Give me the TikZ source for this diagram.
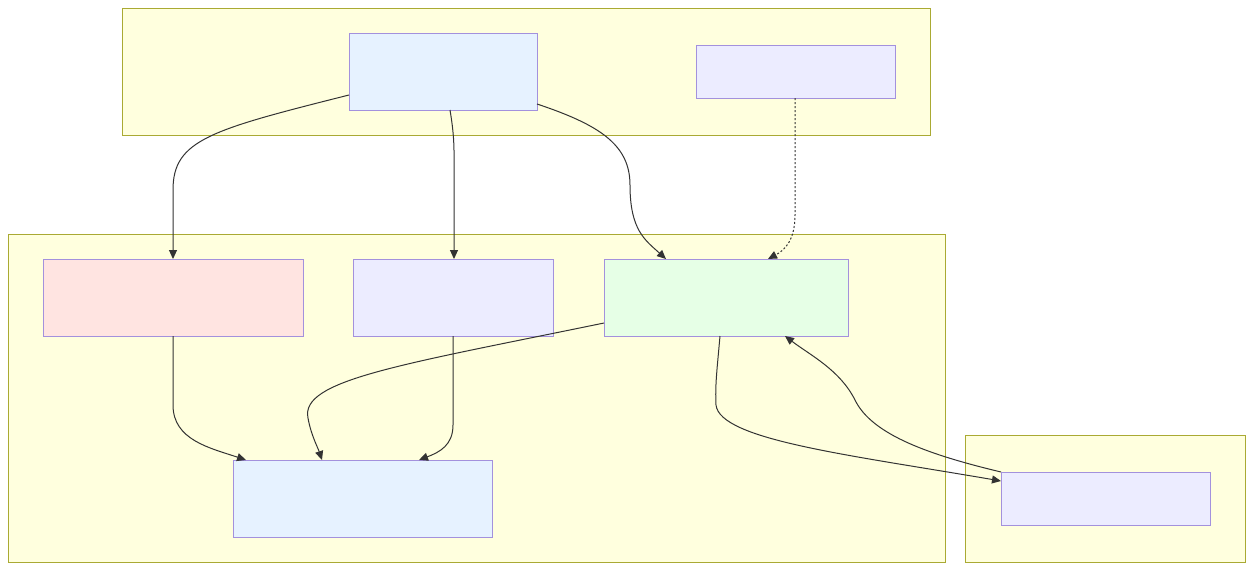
\documentclass[tikz,border=0pt]{standalone}
\usetikzlibrary{arrows.meta}
\definecolor{clfill}{HTML}{FFFFDE}
\definecolor{clline}{HTML}{AAAA33}
\definecolor{ndline}{HTML}{A391DD}
\definecolor{lav}{HTML}{ECECFF}
\definecolor{lblue}{HTML}{E6F2FF}
\definecolor{lpink}{HTML}{FFE4E1}
\definecolor{lgreen}{HTML}{E6FFE6}
\definecolor{edge}{HTML}{333333}
\tikzset{
  cluster/.style={draw=clline, fill=clfill, line width=1pt},
  box/.style={draw=ndline, line width=1pt, inner sep=0pt, outer sep=0pt},
  conn/.style={draw=edge, line width=1pt, -{Triangle[length=9pt,width=8pt]}},
  dotconn/.style={conn, dash pattern=on 2pt off 2pt},
}
\begin{document}
\begin{tikzpicture}[x=1pt,y=-1pt]
\useasboundingbox (0,0) rectangle (1254,571);
\fill[white] (0,0) rectangle (1254,571);
% clusters
\path[cluster] (122,8) rectangle (930,135);
\path[cluster] (8,234) rectangle (945,562);
\path[cluster] (965,435) rectangle (1245,562);
% nodes
\node[box, fill=lblue, minimum width=188pt, minimum height=77pt] (t1) at (443,71.5) {};
\node[box, fill=lav, minimum width=199pt, minimum height=53pt] (t2) at (795.5,71.5) {};
\node[box, fill=lpink, minimum width=260pt, minimum height=77pt] (pk) at (173,297.5) {};
\node[box, fill=lav, minimum width=200pt, minimum height=77pt] (lv) at (453,297.5) {};
\node[box, fill=lgreen, minimum width=244pt, minimum height=77pt] (gr) at (726,297.5) {};
\node[box, fill=lblue, minimum width=259pt, minimum height=77pt] (bt) at (362.5,498.5) {};
\node[box, fill=lav, minimum width=209pt, minimum height=53pt] (rt) at (1105.5,498.5) {};
% edges
\draw[conn] ([yshift=-23.5pt]t1.west) .. controls (210,130) and (173,140) .. (173,190) -- (pk.north);
\draw[conn] ([xshift=7pt]t1.south) .. controls (455,140) and (454,150) .. (454,185) -- ([xshift=1pt]lv.north);
\draw[conn] ([yshift=-32.5pt]t1.east) .. controls (600,125) and (630,145) .. (630,185) .. controls (630,230) and (645,240) .. ([xshift=-60pt]gr.north);
\draw[dotconn] ([xshift=-0.5pt]t2.south) -- (795,215) .. controls (795,240) and (785,250) .. ([xshift=42pt]gr.north);
\draw[conn] (pk.south) -- (173,405) .. controls (173,440) and (210,448) .. ([xshift=-116.5pt]bt.north);
\draw[conn] (lv.south) -- (453,425) .. controls (453,445) and (440,452) .. ([xshift=56.5pt]bt.north);
\draw[conn] ([yshift=-25.5pt]gr.west) .. controls (400,365) and (300,380) .. (308,418) .. controls (311,435) and (318,448) .. ([xshift=-40.5pt]bt.north);
\draw[conn] ([xshift=-6pt]gr.south) .. controls (717,370) and (715,385) .. (716,405) .. controls (720,440) and (850,455) .. ([yshift=17.5pt]rt.west);
\draw[conn] (rt.north west) .. controls (930,455) and (872,435) .. (855,400) .. controls (840,370) and (810,355) .. ([xshift=59pt]gr.south);
\end{tikzpicture}
\end{document}
